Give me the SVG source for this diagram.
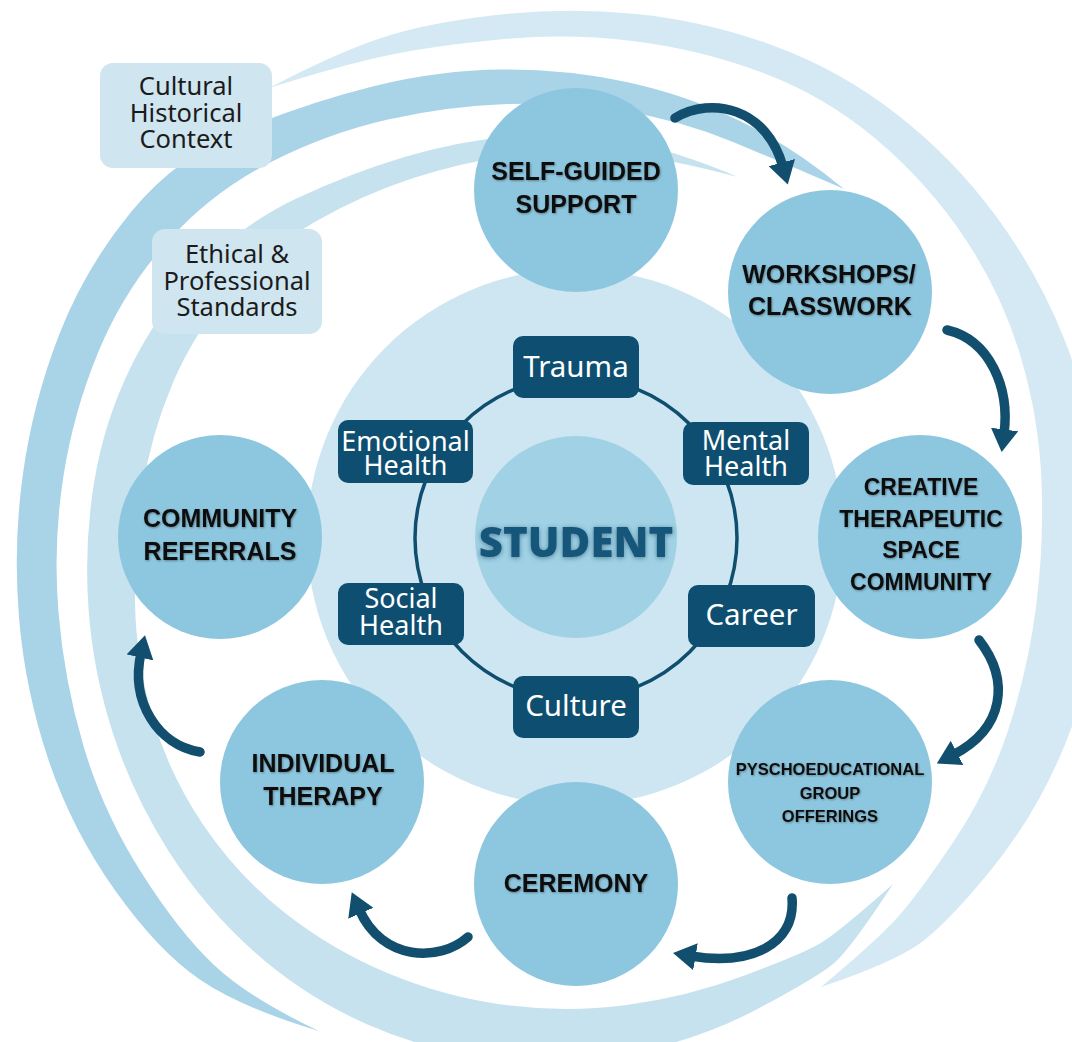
<svg xmlns="http://www.w3.org/2000/svg" width="1072" height="1042" viewBox="0 0 1072 1042">
  <defs>
    <style>
      .band-a { fill: #d4e9f3; }
      .band-b { fill: #a9d4e7; }
      .band-c { fill: #c6e2ef; }
      .disc { fill: #cde6f1; }
      .node circle { fill: #8dc7df; }
      .label { font-family: "Liberation Sans", Arial, sans-serif; font-weight: 700; font-size: 25px; fill: #111; text-anchor: middle; filter: url(#lift); }
      .label.mid { font-size: 23px; }
      .label.small { font-size: 16.5px; }
      .ctx rect { fill: #cfe5ef; }
      .ctx text { font-family: "Noto Sans", "Open Sans", sans-serif; font-size: 25.5px; fill: #1b1b1b; text-anchor: middle; }
      .tag rect { fill: #0e4f71; }
      .tag text { font-family: "Noto Sans", "Open Sans", sans-serif; font-size: 27px; fill: #ffffff; text-anchor: middle; }
      .tag text.one { font-size: 29.5px; }
      .ring { fill: none; stroke: #0f4e6f; stroke-width: 3.5; }
      .arrow { fill: none; stroke: #124f6f; stroke-width: 9.5; stroke-linecap: round; marker-end: url(#head); }
    </style>
    <marker id="head" viewBox="0 0 10 12" refX="2" refY="6" markerWidth="2.4" markerHeight="2.9" orient="auto" markerUnits="strokeWidth">
      <path d="M0,0 L10,6 L0,12 Z" fill="#124f6f"/>
    </marker>
    <filter id="lift" x="-10%" y="-30%" width="120%" height="160%">
      <feDropShadow dx="0.8" dy="1" stdDeviation="0.8" flood-color="#000" flood-opacity="0.35"/>
    </filter>
    <filter id="glow" x="-20%" y="-40%" width="140%" height="180%">
      <feDropShadow dx="0" dy="1" stdDeviation="2.5" flood-color="#0b3d5a" flood-opacity="0.55"/>
    </filter>
  </defs>

  <rect width="1072" height="1042" fill="#ffffff"/>

  <!-- swirling context bands -->
  <g id="swirl">
    <path class="band-a" d="M269,88 Q336,53 381,38 Q426,23 496,15 Q566,7 636,14 Q706,21 773,45.5 Q840,70 896.5,114 Q953,158 995.5,215.5 Q1038,273 1064,338.5 Q1090,404 1099,474.5 Q1108,545 1099,615 Q1090,685 1062.5,750.5 Q1035,816 990.5,870.5 Q946,925 919,944 Q892,963 821,987 Q876,941 896.5,918.5 Q917,896 953,842.5 Q989,789 1008.5,729 Q1028,669 1036,607 Q1044,545 1041.5,481.5 Q1039,418 1020.5,356 Q1002,294 965,238.5 Q928,183 876.5,139.5 Q825,96 762,72.5 Q699,49 632.5,41 Q566,33 499,39.5 Q432,46 387,55.5 Q342,65 269,88 Z"/>
    <path class="band-c" d="M738,177 Q672,149 619,140 Q566,131 512,136 Q458,141 404.5,157 Q351,173 297.5,198 Q244,223 201.5,266.5 Q159,310 131.5,365.5 Q104,421 94,483 Q84,545 88.5,608.5 Q93,672 113,733.5 Q133,795 168.5,851 Q204,907 254.5,952 Q305,997 367.5,1024.5 Q430,1052 498,1058.5 Q566,1065 632.5,1052.5 Q699,1040 757.5,1009 Q816,978 833,964 Q850,950 893,884 Q838,933 820,943.5 Q802,954 744.5,975.5 Q687,997 626.5,1005 Q566,1013 505.5,1005 Q445,997 388.5,973.5 Q332,950 284.5,912.5 Q237,875 203,824.5 Q169,774 152.5,717 Q136,660 135,602.5 Q134,545 142.5,489.5 Q151,434 173,382.5 Q195,331 232,289.5 Q269,248 316.5,221 Q364,194 413.5,178 Q463,162 514.5,154.5 Q566,147 618,153 Q670,159 738,177 Z"/>
    <path class="band-b" d="M844,189 Q795,148 741,121.5 Q687,95 626.5,82 Q566,69 502.5,69.5 Q439,70 374.5,86 Q310,102 243.5,129 Q177,156 131,212 Q85,268 59,335 Q33,402 23,473.5 Q13,545 19,617.5 Q25,690 48.5,760 Q72,830 115.5,891 Q159,952 200.5,980 Q242,1008 319,1031 Q249,998 214,965 Q179,932 141,872 Q103,812 83.5,746 Q64,680 58.5,612.5 Q53,545 63,479 Q73,413 98.5,351.5 Q124,290 168,241 Q212,192 270,162.5 Q328,133 388,119.5 Q448,106 507,104 Q566,102 623,111 Q680,120 733,142 Q786,164 844,189 Z"/>
  </g>

  <!-- inner field behind the student ring -->
  <circle class="disc" cx="575" cy="537" r="268"/>

  <!-- context labels -->
  <g id="cultural-context" class="ctx">
    <rect x="100" y="63" width="172" height="105" rx="13"/>
    <text x="186" y="95">Cultural<tspan x="186" dy="27">Historical</tspan><tspan x="186" dy="26">Context</tspan></text>
  </g>
  <g id="ethical-standards" class="ctx">
    <rect x="152" y="229" width="170" height="105" rx="13"/>
    <text x="237" y="263">Ethical &amp;<tspan x="237" dy="27">Professional</tspan><tspan x="237" dy="26">Standards</tspan></text>
  </g>

  <!-- service nodes -->
  <g id="self-guided" class="node">
    <circle cx="576" cy="190" r="102"/>
    <text class="label" x="576" y="180">SELF-GUIDED<tspan x="576" dy="33">SUPPORT</tspan></text>
  </g>
  <g id="workshops" class="node">
    <circle cx="830" cy="292" r="102"/>
    <text class="label" x="829" y="283">WORKSHOPS/<tspan x="830" dy="32">CLASSWORK</tspan></text>
  </g>
  <g id="creative-space" class="node">
    <circle cx="920" cy="537" r="102"/>
    <text class="label mid" x="921" y="495">CREATIVE<tspan x="921" dy="32">THERAPEUTIC</tspan><tspan x="921" dy="31">SPACE</tspan><tspan x="921" dy="32">COMMUNITY</tspan></text>
  </g>
  <g id="psychoeducational" class="node">
    <circle cx="830" cy="782" r="102"/>
    <text class="label small" x="830" y="775">PYSCHOEDUCATIONAL<tspan x="830" dy="23.5">GROUP</tspan><tspan x="830" dy="23.5">OFFERINGS</tspan></text>
  </g>
  <g id="ceremony" class="node">
    <circle cx="576" cy="884" r="102"/>
    <text class="label" x="576" y="892">CEREMONY</text>
  </g>
  <g id="individual-therapy" class="node">
    <circle cx="322" cy="782" r="102"/>
    <text class="label" x="323" y="772">INDIVIDUAL<tspan x="323" dy="33">THERAPY</tspan></text>
  </g>
  <g id="community-referrals" class="node">
    <circle cx="220" cy="537" r="102"/>
    <text class="label" x="220" y="527">COMMUNITY<tspan x="220" dy="33">REFERRALS</tspan></text>
  </g>

  <!-- ring linking the student dimensions -->
  <g id="ring">
    <circle class="ring" cx="576" cy="538" r="161"/>
  </g>

  <!-- student dimensions -->
  <g id="trauma" class="tag">
    <rect x="513" y="336" width="126" height="62" rx="10"/>
    <text class="one" x="576" y="377">Trauma</text>
  </g>
  <g id="mental-health" class="tag">
    <rect x="683" y="422" width="126" height="63" rx="10"/>
    <text x="746" y="450">Mental<tspan x="746" dy="26">Health</tspan></text>
  </g>
  <g id="career" class="tag">
    <rect x="688" y="585" width="127" height="62" rx="10"/>
    <text class="one" x="751.5" y="625">Career</text>
  </g>
  <g id="culture" class="tag">
    <rect x="513" y="676" width="126" height="62" rx="10"/>
    <text class="one" x="576" y="716">Culture</text>
  </g>
  <g id="social-health" class="tag">
    <rect x="338" y="583" width="126" height="62" rx="10"/>
    <text x="401" y="608">Social<tspan x="401" dy="27">Health</tspan></text>
  </g>
  <g id="emotional-health" class="tag">
    <rect x="338" y="420" width="135" height="63" rx="10"/>
    <text x="405.5" y="451">Emotional<tspan x="405.5" dy="24">Health</tspan></text>
  </g>

  <!-- student core -->
  <g id="student">
    <circle cx="576" cy="537" r="101" fill="#a0d1e5"/>
    <text x="576" y="557" font-family="'Open Sans', 'Liberation Sans', sans-serif" font-weight="800" font-size="42" fill="#16577a" text-anchor="middle" filter="url(#glow)">STUDENT</text>
  </g>

  <!-- flow between services -->
  <g id="connectors">
    <path class="arrow" d="M675,118 C712,96 767,108 783,167"/>
    <path class="arrow" d="M947,330 C990,340 1010,388 1004,434"/>
    <path class="arrow" d="M979,640 C1010,680 1005,728 953,755"/>
    <path class="arrow" d="M792,898 C796,945 750,966 691,956"/>
    <path class="arrow" d="M468,937 C440,962 382,962 359,909"/>
    <path class="arrow" d="M200,752 C158,745 130,702 141,653"/>
  </g>
</svg>
